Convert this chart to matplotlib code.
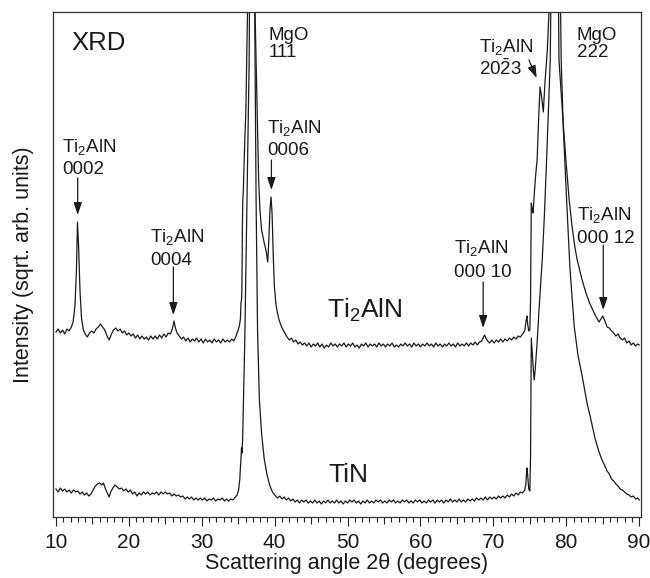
import matplotlib
matplotlib.use('Agg')
import matplotlib.pyplot as plt

plt.rcParams['font.family'] = ['Liberation Sans', 'DejaVu Sans']
plt.rcParams['mathtext.fontset'] = 'custom'
plt.rcParams['mathtext.rm'] = 'Liberation Sans'
plt.rcParams['mathtext.it'] = 'Liberation Sans'
plt.rcParams['mathtext.default'] = 'regular'

# ── data (2theta in degrees, intensity in sqrt. arb. units) ─────────────────
TTH_TI2ALN = [
    10.0, 10.3, 10.6, 10.9, 11.2, 11.5, 11.8, 12.1, 12.35, 12.6, 12.8, 12.95, 13.1, 13.3, 13.5, 13.75,
    14.0, 14.3, 14.6, 14.9, 15.2, 15.5, 15.8, 16.1, 16.4, 16.7, 17.0, 17.3, 17.6, 17.9, 18.2, 18.5,
    18.8, 19.1, 19.4, 19.7, 20.0, 20.3, 20.6, 20.9, 21.2, 21.5, 21.8, 22.1, 22.4, 22.7, 23.0, 23.3,
    23.6, 23.9, 24.2, 24.5, 24.8, 25.1, 25.4, 25.7, 25.95, 26.1, 26.2, 26.35, 26.6, 26.9, 27.2, 27.5,
    27.8, 28.1, 28.4, 28.7, 29.0, 29.3, 29.6, 29.9, 30.2, 30.5, 30.8, 31.1, 31.4, 31.7, 32.0, 32.3,
    32.6, 32.9, 33.2, 33.5, 33.8, 34.1, 34.4, 34.7, 34.95, 35.15, 35.3, 35.38, 35.45, 35.5, 35.58, 35.63,
    35.7, 35.9, 36.05, 36.3, 36.8, 37.3, 37.6, 37.8, 37.98, 38.2, 38.57, 38.85, 39.04, 39.2, 39.35, 39.5,
    39.65, 39.8, 39.95, 40.15, 40.35, 40.6, 40.95, 41.3, 41.7, 42.0, 42.3, 42.6, 42.9, 43.2, 43.5, 43.8,
    44.1, 44.4, 44.7, 45.0, 45.3, 45.6, 45.9, 46.2, 46.5, 46.8, 47.1, 47.4, 47.7, 48.0, 48.3, 48.6,
    48.9, 49.2, 49.5, 49.8, 50.1, 50.4, 50.7, 51.0, 51.3, 51.6, 51.9, 52.2, 52.5, 52.8, 53.1, 53.4,
    53.7, 54.0, 54.3, 54.6, 54.9, 55.2, 55.5, 55.8, 56.1, 56.4, 56.7, 57.0, 57.3, 57.6, 57.9, 58.2,
    58.5, 58.8, 59.1, 59.4, 59.7, 60.0, 60.3, 60.6, 60.9, 61.2, 61.5, 61.8, 62.1, 62.4, 62.7, 63.0,
    63.3, 63.6, 63.9, 64.2, 64.5, 64.8, 65.1, 65.4, 65.7, 66.0, 66.3, 66.6, 66.9, 67.2, 67.5, 67.8,
    68.1, 68.4, 68.65, 68.8, 68.95, 69.2, 69.5, 69.8, 70.1, 70.4, 70.7, 71.0, 71.3, 71.6, 71.9, 72.2,
    72.5, 72.8, 73.1, 73.4, 73.7, 74.0, 74.3, 74.5, 74.6, 74.7, 74.85, 75.0, 75.1, 75.2, 75.35, 75.45,
    75.6, 75.8, 76.0, 76.2, 76.4, 76.6, 76.85, 77.1, 77.4, 77.7, 78.45, 79.0, 79.5, 79.95, 80.4, 80.8,
    81.2, 81.5, 82.1, 82.7, 83.2, 83.7, 84.1, 84.5, 84.75, 85.0, 85.25, 85.6, 85.9, 86.2, 86.5, 86.8,
    87.1, 87.4, 87.7, 88.0, 88.3, 88.6, 88.9, 89.2, 89.5, 89.8, 90.0,
]
INT_TI2ALN = [
    185, 188, 184, 187, 183, 188, 186, 190, 195, 211, 245, 295, 271, 225, 199, 187,
    183, 180, 184, 186, 184, 188, 190, 193, 190, 187, 181, 177, 183, 187, 189, 186,
    188, 184, 186, 182, 184, 181, 183, 179, 182, 178, 181, 178, 180, 177, 181, 178,
    181, 178, 182, 179, 183, 180, 184, 183, 188, 193, 196, 190, 184, 181, 178, 180,
    176, 179, 175, 178, 176, 179, 175, 178, 174, 178, 175, 177, 174, 178, 175, 177,
    174, 178, 175, 177, 175, 178, 176, 181, 186, 191, 198, 214, 217, 227, 297, 317,
    327, 377, 407, 517, 937, 507, 407, 337, 307, 287, 274, 265, 255, 277, 307, 320,
    302, 262, 232, 214, 205, 197, 190, 185, 180, 177, 179, 175, 177, 173, 175, 172,
    174, 171, 174, 170, 173, 171, 174, 170, 173, 169, 172, 170, 174, 171, 173, 170,
    173, 171, 174, 170, 173, 171, 174, 170, 172, 169, 173, 171, 174, 170, 173, 171,
    173, 170, 174, 171, 173, 170, 173, 171, 174, 170, 172, 170, 173, 171, 174, 171,
    173, 170, 174, 171, 173, 170, 173, 171, 174, 171, 173, 170, 174, 171, 173, 170,
    173, 171, 174, 171, 173, 170, 174, 171, 173, 171, 174, 171, 174, 172, 175, 172,
    175, 176, 180, 182, 179, 176, 174, 177, 174, 177, 175, 178, 175, 178, 176, 179,
    177, 180, 178, 181, 180, 183, 186, 197, 201, 193, 186, 187, 217, 314, 307, 304,
    322, 342, 357, 397, 430, 421, 405, 437, 467, 517, 937, 457, 402, 357, 317, 290,
    269, 257, 239, 224, 214, 206, 200, 195, 198, 201, 197, 190, 189, 186, 184, 181,
    183, 179, 177, 179, 174, 176, 172, 174, 171, 173, 172,
]

TTH_TIN = [
    10.0, 10.3, 10.6, 10.9, 11.2, 11.5, 11.8, 12.1, 12.4, 12.7, 13.0, 13.3, 13.6, 13.9, 14.2, 14.5,
    14.8, 15.1, 15.4, 15.7, 16.0, 16.3, 16.5, 16.8, 17.1, 17.3, 17.5, 17.8, 18.1, 18.4, 18.7, 19.0,
    19.3, 19.6, 19.9, 20.2, 20.5, 20.8, 21.1, 21.4, 21.7, 22.0, 22.3, 22.6, 22.9, 23.2, 23.5, 23.8,
    24.1, 24.4, 24.7, 25.0, 25.3, 25.6, 25.9, 26.2, 26.5, 26.8, 27.1, 27.4, 27.7, 28.0, 28.3, 28.6,
    28.9, 29.2, 29.5, 29.8, 30.1, 30.4, 30.7, 31.0, 31.3, 31.6, 31.9, 32.2, 32.5, 32.8, 33.1, 33.4,
    33.7, 34.0, 34.3, 34.6, 34.85, 35.05, 35.2, 35.35, 35.45, 35.5, 35.6, 35.9, 36.2, 36.5, 36.9, 37.3,
    37.45, 37.65, 37.9, 38.2, 38.55, 38.9, 39.3, 39.7, 40.0, 40.4, 40.7, 41.0, 41.3, 41.6, 41.9, 42.2,
    42.5, 42.8, 43.1, 43.4, 43.7, 44.0, 44.3, 44.6, 44.9, 45.2, 45.5, 45.8, 46.1, 46.4, 46.7, 47.0,
    47.3, 47.6, 47.9, 48.2, 48.5, 48.8, 49.1, 49.4, 49.7, 50.0, 50.3, 50.6, 50.9, 51.2, 51.5, 51.8,
    52.1, 52.4, 52.7, 53.0, 53.3, 53.6, 53.9, 54.2, 54.5, 54.8, 55.1, 55.4, 55.7, 56.0, 56.3, 56.6,
    56.9, 57.2, 57.5, 57.8, 58.1, 58.4, 58.7, 59.0, 59.3, 59.6, 59.9, 60.2, 60.5, 60.8, 61.1, 61.4,
    61.7, 62.0, 62.3, 62.6, 62.9, 63.2, 63.5, 63.8, 64.1, 64.4, 64.7, 65.0, 65.3, 65.6, 65.9, 66.2,
    66.5, 66.8, 67.1, 67.4, 67.7, 68.0, 68.3, 68.6, 68.9, 69.2, 69.5, 69.8, 70.1, 70.4, 70.7, 71.0,
    71.3, 71.6, 71.9, 72.2, 72.5, 72.8, 73.1, 73.4, 73.7, 74.0, 74.3, 74.45, 74.6, 74.7, 74.85, 75.0,
    75.1, 75.2, 75.35, 75.5, 75.6, 75.75, 76.0, 76.3, 76.7, 77.0, 77.3, 77.8, 78.5, 79.3, 79.6, 80.0,
    80.5, 81.1, 81.6, 82.2, 82.6, 82.9, 83.3, 83.6, 83.9, 84.2, 84.5, 84.9, 85.3, 85.6, 85.9, 86.2,
    86.5, 86.8, 87.1, 87.4, 87.7, 88.0, 88.3, 88.6, 88.9, 89.2, 89.5, 89.8, 90.0,
]
INT_TIN = [
    28, 25, 29, 26, 28, 25, 27, 24, 27, 25, 26, 23, 25, 22, 24, 21,
    23, 27, 31, 33, 34, 32, 34, 28, 23, 20, 25, 29, 32, 30, 28, 29,
    26, 28, 25, 27, 23, 25, 21, 24, 22, 25, 23, 25, 22, 24, 23, 25,
    22, 25, 23, 25, 23, 24, 21, 23, 21, 22, 20, 21, 18, 20, 18, 20,
    17, 19, 17, 19, 17, 19, 16, 18, 17, 19, 16, 18, 17, 19, 16, 18,
    16, 18, 17, 20, 22, 27, 37, 55, 69, 64, 77, 177, 317, 457, 937, 467,
    317, 187, 117, 84, 59, 44, 32, 25, 22, 19, 21, 18, 20, 17, 19, 16,
    18, 15, 17, 14, 17, 15, 17, 14, 16, 14, 17, 14, 16, 13, 16, 14,
    17, 14, 16, 14, 17, 14, 16, 13, 16, 14, 17, 15, 17, 14, 16, 13,
    16, 14, 17, 14, 16, 14, 17, 15, 17, 14, 16, 14, 17, 15, 17, 14,
    16, 14, 17, 15, 17, 14, 16, 14, 17, 15, 17, 14, 16, 14, 17, 15,
    17, 14, 17, 15, 17, 14, 17, 15, 18, 15, 17, 15, 18, 15, 17, 15,
    18, 16, 18, 16, 19, 17, 19, 17, 20, 17, 20, 18, 20, 18, 21, 19,
    21, 19, 22, 20, 23, 21, 24, 22, 25, 24, 27, 33, 49, 42, 28, 26,
    62, 179, 162, 145, 137, 149, 174, 212, 257, 302, 357, 457, 937, 457, 387, 324,
    249, 190, 162, 140, 124, 112, 100, 90, 80, 72, 65, 57, 51, 46, 43, 38,
    36, 33, 31, 28, 27, 25, 23, 22, 20, 21, 18, 19, 17,
]

# peak annotations: two text lines, text anchor, arrow tail -> arrow tip
PEAK_LINE1 = ['Ti$_2$AlN', 'Ti$_2$AlN', 'MgO', 'Ti$_2$AlN', 'Ti$_2$AlN',
              'MgO', 'Ti$_2$AlN', 'Ti$_2$AlN']
PEAK_LINE2 = ['0002', '0004', '111', '0006', r'20$\bar{2}$3',
              '222', '000 10', '000 12']
PEAK_TEXT_X = [10.82, 22.89, 39.22, 38.94, 68.02, 81.47, 64.6, 81.47]
PEAK_TEXT_Y1 = [365, 275, 477, 384, 465, 477, 264, 297]
PEAK_TEXT_Y2 = [343, 252, 460, 362, 442, 460, 240, 274]
ARROW_FROM = [(12.98, 339), (26.1, 250), None, (39.55, 357), (74.88, 457),
              None, (68.6, 235), (85.07, 272)]
ARROW_TO = [(12.98, 302), (26.1, 202), None, (39.55, 327), (75.94, 439),
            None, (68.6, 189), (85.07, 207)]

# ── figure ───────────────────────────────────────────────────────────────────
fig = plt.figure(figsize=(6.5, 5.78), dpi=100)
ax = fig.add_axes([53 / 650, 61 / 578, 588 / 650, 505 / 578])

LINE_C = '#1a1a1a'
ax.plot(TTH_TI2ALN, INT_TI2ALN, color=LINE_C, lw=0.9)
ax.plot(TTH_TIN, INT_TIN, color=LINE_C, lw=0.9)

ax.set_xlim(9.59, 90.25)
ax.set_ylim(0, 505)
ax.set_yticks([])

ax.set_xticks(range(10, 91, 10))
ax.set_xticks([v for v in range(10, 91) if v % 5], minor=True)
ax.tick_params(axis='x', which='major', direction='out', length=6.5, width=0.8,
               labelsize=15, pad=5, color='#222222', labelcolor='#1a1a1a')
ax.tick_params(axis='x', which='minor', direction='out', length=3.5, width=0.8,
               color='#222222')
# intermediate ticks at every 5 degrees
sec = ax.secondary_xaxis('bottom')
sec.set_xticks(range(15, 90, 10))
sec.tick_params(direction='out', length=5, width=0.8, labelbottom=False, color='#222222')
sec.spines['bottom'].set_visible(False)

for sp in ax.spines.values():
    sp.set_linewidth(0.9)
    sp.set_color('#333333')

ax.set_xlabel('Scattering angle 2θ (degrees)', fontsize=15.5, labelpad=1,
              color='#1a1a1a')
ax.set_ylabel('Intensity (sqrt. arb. units)', fontsize=15.5, labelpad=14,
              color='#1a1a1a')

# ── labels ───────────────────────────────────────────────────────────────────
ax.text(12.06, 467, 'XRD', fontsize=18.5, ha='left', va='baseline', color='#1a1a1a')
ax.text(47.17, 199, 'Ti$_2$AlN', fontsize=19, ha='left', va='baseline', color='#1a1a1a')
ax.text(47.31, 35, 'TiN', fontsize=19, ha='left', va='baseline', color='#1a1a1a')

for i in range(len(PEAK_LINE1)):
    ax.text(PEAK_TEXT_X[i], PEAK_TEXT_Y1[i], PEAK_LINE1[i], fontsize=13.5,
            ha='left', va='baseline', color='#1a1a1a')
    ax.text(PEAK_TEXT_X[i], PEAK_TEXT_Y2[i], PEAK_LINE2[i], fontsize=13.5,
            ha='left', va='baseline', color='#1a1a1a')
    if ARROW_FROM[i] is not None:
        ax.annotate('', xy=ARROW_TO[i], xytext=ARROW_FROM[i],
                    arrowprops=dict(arrowstyle='-|>,head_length=0.75,head_width=0.25',
                                    color='#1a1a1a', lw=0.9, mutation_scale=10,
                                    shrinkA=0, shrinkB=0))

fig.savefig('out.png', dpi=100, facecolor='white')
